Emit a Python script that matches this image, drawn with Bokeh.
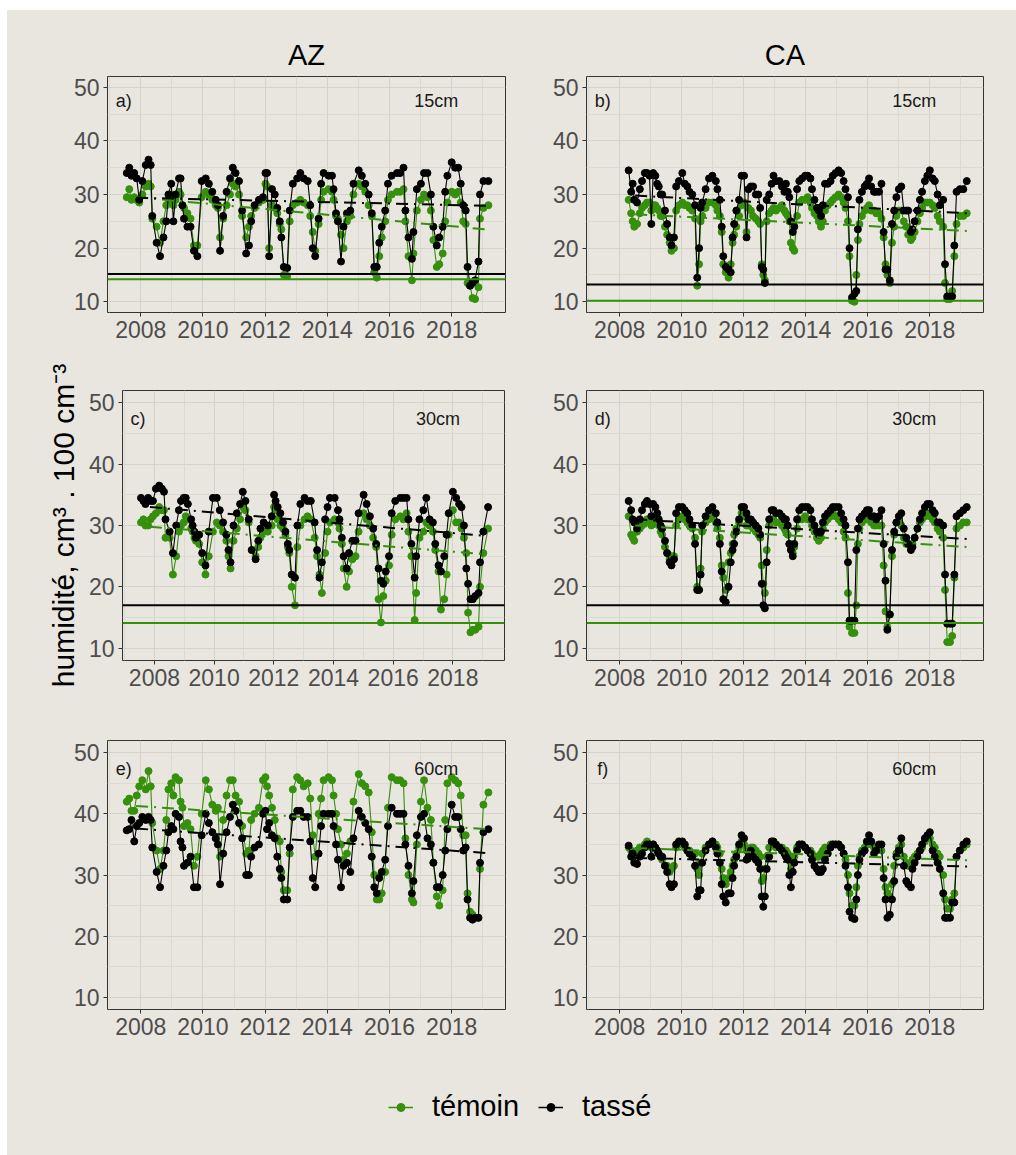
from bokeh.plotting import figure
from bokeh.models import (ColumnDataSource, Range1d, FixedTicker, Span, Label,
                          Legend, LegendItem, Spacer)
from bokeh.layouts import column, row
from bokeh.embed import file_html
from bokeh.resources import INLINE

BG = "#E9E6DF"
GREEN = "#35900C"
BLACK = "#000000"
FONT = "Liberation Sans"

# ---------------- data ----------------
series_names = ["témoin", "tassé"]
column_titles = ["AZ", "CA"]
panel_tags = ["a)", "b)", "c)", "d)", "e)", "f)"]
depth_labels = ["15cm", "15cm", "30cm", "30cm", "60cm", "60cm"]
x_major = [2008, 2010, 2012, 2014, 2016, 2018]
x_minor = [2007, 2009, 2011, 2013, 2015, 2017, 2019]
y_major = [10, 20, 30, 40, 50]
y_minor = [15, 25, 35, 45]

az_dates = [
    2007.55, 2007.63, 2007.70, 2007.79, 2007.87, 2007.95, 2008.05, 2008.16, 2008.25, 2008.32,
    2008.37, 2008.51, 2008.62, 2008.73, 2008.82, 2008.89, 2008.98, 2009.05, 2009.12, 2009.23,
    2009.28, 2009.34, 2009.39, 2009.50, 2009.60, 2009.71, 2009.82, 2009.96, 2010.09, 2010.19,
    2010.30, 2010.41, 2010.48, 2010.55, 2010.65, 2010.76, 2010.87, 2010.96, 2011.05, 2011.16,
    2011.26, 2011.39, 2011.48, 2011.55, 2011.66, 2011.80, 2011.93, 2012.01, 2012.06, 2012.13,
    2012.22, 2012.31, 2012.39, 2012.47, 2012.52, 2012.60, 2012.71, 2012.79, 2012.89, 2013.03,
    2013.13, 2013.24, 2013.37, 2013.45, 2013.53, 2013.61, 2013.72, 2013.80, 2013.88, 2014.04,
    2014.15, 2014.20, 2014.28, 2014.34, 2014.44, 2014.52, 2014.63, 2014.74, 2014.84, 2015.01,
    2015.11, 2015.22, 2015.33, 2015.43, 2015.51, 2015.59, 2015.67, 2015.75, 2015.86, 2015.95,
    2016.07, 2016.24, 2016.34, 2016.45, 2016.51, 2016.61, 2016.72, 2016.77, 2016.88, 2017.01,
    2017.11, 2017.22, 2017.33, 2017.41, 2017.52, 2017.60, 2017.71, 2017.79, 2017.86, 2018.00,
    2018.11, 2018.21, 2018.29, 2018.37, 2018.45, 2018.51, 2018.59, 2018.67, 2018.75, 2018.86,
    2018.91, 2019.02, 2019.18]

a_tasse = [
    34, 35, 33.5, 34, 33, 29, 32.5, 35.5, 36.5, 35.5,
    26, 21, 18.5, 22, 25, 30, 32, 25, 30, 33,
    33, 28, 25.5, 24, 24, 19.5, 18.5, 32.5, 33, 32,
    30.5, 29, 28, 19.5, 26, 30.5, 33, 35, 34, 32.5,
    27, 19, 20.5, 25, 28, 29, 29.5, 34, 34, 18.5,
    31, 30, 27.5, 25, 22, 16.5, 16.3, 27, 32, 33,
    34, 33, 32.5, 28, 20, 18.5, 25.5, 32, 34, 33.5,
    33.5, 31, 26.5, 25, 17.5, 24, 26.5, 27, 32, 34.5,
    33.5, 32, 30, 26.5, 16.5, 16.5, 21, 24, 27, 32,
    33.5, 34, 34, 35, 27, 22, 18, 23, 31, 32,
    34, 34, 30, 24, 20.5, 22, 24, 30.5, 33.5, 36,
    35, 35, 32, 28, 27, 16.5, 13, 13.5, 14, 17.5,
    30, 32.5, 32.5]
a_temoin = [
    29.5, 31, 29, 29.5, 29, 28.5, 30, 31.5, 32, 31.5,
    25.5, 24, 21, 25, 28, 28.5, 30, 28, 29, 30.5,
    30, 28, 27.5, 26.5, 25.5, 20.5, 20.5, 29.5, 30.5, 30,
    29, 28, 27.5, 22, 25.5, 28, 30, 32, 31.5, 30,
    26, 22, 24, 26, 27.5, 28.5, 29, 32, 31.5, 20,
    28, 27.5, 26.5, 24.5, 23.5, 15, 14.8, 25, 28, 28.5,
    29, 28.5, 28, 26, 23, 19.5, 24.5, 29, 30.5, 31,
    30.5, 29, 26, 25.5, 22.5, 20, 25, 26, 30, 32,
    31.5, 30.5, 28, 26, 15.5, 14.5, 18.5, 22, 25, 29,
    30, 30.5, 30.5, 31, 25, 18.5, 14, 19, 27, 29,
    30, 29.5, 27, 21.5, 16.5, 17, 19, 25, 28.5, 30.5,
    30, 30.5, 28.5, 25, 24.5, 13.5, 13, 10.7, 10.5, 12.7,
    25.5, 27.5, 28]
c_tasse = [
    34.5, 34, 33.5, 34.5, 34, 34, 36, 36.5, 36, 35.5,
    31, 29, 25.5, 30, 32.5, 34, 34.5, 34.5, 33.5, 31,
    30, 29, 28, 28.5, 25.5, 23.5, 29, 34.5, 34.5, 32.5,
    30.5, 28.5, 26, 24, 30, 32, 33.5, 35.5, 34, 31,
    26, 24.5, 27.5, 29.5, 30.5, 30, 31.5, 35, 34, 33,
    32, 30.5, 29, 27, 26, 22, 21.5, 30, 33.5, 34.5,
    34, 34, 30.5, 26, 21.5, 24, 31, 33, 34.5, 34.5,
    32.5, 31, 28, 25, 23, 25.5, 27.5, 27.5, 32, 35,
    33.5, 31.5, 29.5, 27, 23, 21, 20.5, 22.5, 25, 32,
    34, 34.5, 34.5, 34.5, 31, 27, 21.5, 25, 31, 32.5,
    34.5, 31, 30.5, 27, 23.5, 22.5, 25, 28.5, 32, 35.5,
    34.5, 33.5, 33, 30, 23, 20.5, 18, 18, 18.5, 19,
    24, 29, 33]
c_temoin = [
    30.5, 31, 30, 30, 31, 31.5, 32, 33, 32.5, 32.5,
    28, 28, 22, 25, 29, 30, 30.5, 31.5, 31, 29.5,
    29, 28, 27.5, 27, 24, 22, 25, 29, 30.5, 30,
    29, 27.5, 25, 23, 27.5, 29.5, 31, 33, 32.5, 30.5,
    26, 25, 26.5, 28, 29, 29, 30, 33, 32.5, 31,
    30, 29.5, 28.5, 26.5, 25.5, 20, 17, 26.5, 30, 31,
    31.5, 31, 28, 25, 22, 19, 25.5, 29, 30.5, 31,
    30.5, 29.5, 27, 23, 20, 22.5, 24.5, 25, 29, 32,
    31, 30, 28, 26.5, 18, 14.2, 18.5, 21, 23.5, 28.5,
    31, 31.5, 31, 32, 29, 25, 14.6, 19, 28, 29,
    30.5, 30, 29, 26, 22.5, 16.3, 18, 22, 28.5, 32.5,
    30.5, 30.5, 29.5, 28, 25.5, 15.8, 12.6, 13, 13, 13.5,
    20, 25.5, 29.5]
e_tasse = [
    37.3, 37.5, 39, 35.5, 38, 38.5, 39.5, 39, 39.5, 39,
    34.5, 30.5, 28, 31.5, 34, 37, 38, 37.5, 40, 39.5,
    35.5, 34.5, 31.5, 32, 33, 28, 28, 36.5, 40, 38.5,
    37, 36, 35, 28.5, 33.5, 37, 39.5, 41.5, 40.5, 38.5,
    36, 30, 30, 33, 34.5, 35, 40, 40.5, 37.5, 38.5,
    36.5, 36, 33, 31, 29.5, 26, 26, 34.5, 39.5, 40.5,
    40.5, 39.5, 39.5, 35.5, 29.5, 28, 33.5, 38, 40, 40,
    40, 38, 35, 32.5, 28, 31.5, 32, 30.5, 36, 40.5,
    39.5, 38.5, 37.5, 33, 28, 27, 29.5, 30.5, 32.5, 38,
    41, 40, 40, 40, 35, 31.5, 27, 29, 36.5, 39.5,
    40, 36, 35, 32, 28, 28, 30, 34, 37.5, 41.5,
    39.5, 39.5, 37.5, 34, 34.5, 26, 23, 22.7, 23, 23,
    32, 37, 37.5]
e_temoin = [
    42, 42.5, 40.5, 40.5, 43, 44.5, 45.5, 44, 47, 44.5,
    38.5, 34, 31, 34, 39, 44, 45, 43, 46, 45.5,
    42, 41, 38, 38.5, 37.5, 31.5, 33, 40, 45.5, 44,
    41.5, 40.5, 41, 33, 39, 43, 45.5, 45.5, 43, 42,
    38, 33.5, 34, 39, 40, 41, 45.5, 46, 44.5, 43,
    41, 39, 36, 35.5, 30.5, 27.5, 27.5, 33.5, 44, 46,
    45.5, 44.5, 45, 42.5, 36.5, 33, 40, 42.5, 45.5, 46,
    45.5, 43, 40, 37.5, 35, 32.5, 33.5, 35.5, 42, 46.5,
    45, 44.5, 43.5, 37, 30, 26, 26, 27, 30.5, 41,
    46, 45.5, 45.5, 45, 36, 30, 26, 25.5, 35, 42,
    45.5, 41, 39, 32, 26.5, 25, 27.5, 39, 45, 46,
    45.5, 45, 43, 36.5, 36.5, 27, 24, 23.5, 23, 23,
    31, 41.5, 43.5]

ca_dates = [
    2008.29, 2008.37, 2008.42, 2008.47, 2008.56, 2008.65, 2008.72, 2008.81, 2008.88, 2008.96,
    2009.02, 2009.08, 2009.15, 2009.21, 2009.26, 2009.32, 2009.37, 2009.46, 2009.53, 2009.61,
    2009.67, 2009.75, 2009.82, 2009.91, 2010.02, 2010.10, 2010.18, 2010.25, 2010.34, 2010.43,
    2010.50, 2010.56, 2010.61, 2010.66, 2010.77, 2010.88, 2010.99, 2011.10, 2011.15, 2011.23,
    2011.29, 2011.34, 2011.42, 2011.51, 2011.58, 2011.64, 2011.69, 2011.76, 2011.85, 2011.93,
    2012.01, 2012.09, 2012.15, 2012.23, 2012.30, 2012.39, 2012.47, 2012.53, 2012.58, 2012.63,
    2012.68, 2012.74, 2012.82, 2012.90, 2012.96, 2013.04, 2013.15, 2013.23, 2013.31, 2013.36,
    2013.42, 2013.47, 2013.52, 2013.58, 2013.63, 2013.72, 2013.79, 2013.88, 2013.98, 2014.06,
    2014.15, 2014.20, 2014.28, 2014.36, 2014.42, 2014.49, 2014.55, 2014.62, 2014.71, 2014.80,
    2014.87, 2014.96, 2015.06, 2015.14, 2015.22, 2015.28, 2015.36, 2015.41, 2015.49, 2015.57,
    2015.63, 2015.68, 2015.73, 2015.81, 2015.90, 2015.97, 2016.04, 2016.11, 2016.20, 2016.27,
    2016.36, 2016.44, 2016.51, 2016.57, 2016.63, 2016.71, 2016.78, 2016.85, 2016.92, 2017.00,
    2017.08, 2017.16, 2017.24, 2017.30, 2017.39, 2017.44, 2017.51, 2017.60, 2017.68, 2017.75,
    2017.84, 2017.92, 2018.00, 2018.09, 2018.16, 2018.25, 2018.32, 2018.43, 2018.49, 2018.56,
    2018.65, 2018.72, 2018.79, 2018.86, 2018.97, 2019.08, 2019.19]

b_tasse = [
    34.5, 30.5, 32, 29, 28.5, 31, 32.5, 34, 34, 33.5,
    24.5, 34, 33.5, 32, 31.5, 30, 30, 27, 24.5, 22,
    20.5, 22, 31.5, 32.5, 34, 32, 31.5, 30.5, 30, 28,
    14.5, 20, 27.5, 28.5, 31, 33, 33.5, 32.5, 31, 29,
    24, 18.5, 16.5, 16, 15.5, 22, 24.5, 27, 29, 33.5,
    33.5, 22, 31, 31.5, 31.5, 30, 30, 27.5, 16.5, 16,
    13.5, 29, 30, 32, 33.5, 32.5, 32.5, 31.5, 30.5, 32,
    30.5, 29.5, 25, 23, 24, 31, 32.5, 33, 33.5, 33.5,
    33, 31, 29, 27.5, 27, 26, 28, 32, 32, 32.5,
    33.5, 34, 34.5, 34, 32.5, 31, 29.5, 20, 10.8, 11.5,
    12, 23.5, 29, 30.5, 31.5, 32, 33, 31.5, 30.5, 30.5,
    30.5, 32, 23, 16, 16, 14, 24.5, 27, 29.5, 31,
    31.5, 27, 27, 27, 23, 23.5, 25, 27, 29, 30.5,
    32.5, 33.5, 34.5, 33, 32.5, 30, 28, 29, 17, 11,
    11, 11, 20.5, 30.5, 31, 31, 32.5]
b_temoin = [
    29, 26.5, 25, 24, 24.5, 26.5, 27.5, 28, 28.5, 28.5,
    27, 28, 28, 27.5, 27, 26, 26, 24, 22.5, 21,
    19.5, 20, 27, 28, 28.5, 28, 28, 27.5, 27, 25.5,
    13, 17, 25, 26, 27.5, 28.5, 28.5, 28, 27, 26,
    23, 17, 15.5, 14.5, 17, 21, 22.5, 24, 26, 28,
    28.5, 23, 27.5, 27, 26, 25.5, 25, 24.5, 17, 15,
    14, 25, 26.5, 27, 27.5, 27, 27.5, 28, 27, 26.5,
    26, 25, 21, 20, 19.5, 26, 28.5, 29, 29, 29.5,
    28.5, 27.5, 26.5, 26, 25, 24, 25, 27, 28, 28.5,
    29, 29.5, 30, 29.5, 28.5, 27.5, 25, 18.5, 10.2, 10,
    15, 21.5, 24.5, 26, 27, 27.5, 28, 27, 27, 26.5,
    26.5, 25.5, 22, 17, 15, 13.5, 21, 24, 26, 27,
    27, 25, 24, 22.5, 21.5, 22, 23, 25, 26.5, 27.5,
    28.5, 28.5, 28.5, 28, 27.5, 26, 25, 24, 13.5, 10.5,
    10.5, 12, 18.5, 24.5, 26, 26, 26.5]
d_tasse = [
    34, 32.5, 31, 30.5, 29.5, 31, 32.5, 33.5, 34, 33.5,
    31.5, 33.5, 33, 32, 31, 30, 29.5, 27.5, 25.5, 24,
    23.5, 24.5, 32, 33, 33, 32.5, 32, 31, 30, 27,
    19.5, 19.5, 22, 30, 31.5, 32.5, 33, 32, 30.5, 27,
    22.5, 18, 17.5, 20, 24, 26, 27, 29, 31, 33,
    33, 32, 31, 31, 30.5, 30, 29.5, 28.5, 20.5, 17,
    16.5, 24, 31, 32.5, 32.5, 32, 32, 31.5, 31, 31,
    30, 27, 26, 25, 27, 31, 32.5, 33, 33, 33,
    32.5, 31, 30, 29, 28.5, 29, 30.5, 31.5, 32, 32.5,
    33, 33, 33, 32, 31, 30, 24, 14.5, 14.5, 14.5,
    26, 29.5, 31, 31.5, 32, 32.5, 32.5, 31.5, 31.5, 31,
    31.5, 32.5, 27, 21, 13, 15.5, 26, 29, 30.5, 31.5,
    32, 29.5, 28, 27, 26, 26.5, 28, 29.5, 31, 32,
    33, 33.5, 33.5, 32.5, 32, 30.5, 30.5, 30, 22, 14,
    14, 14, 22, 31.5, 32, 32.5, 33]
d_temoin = [
    31.5, 28.5, 28, 27.5, 29, 29.5, 30, 30.5, 31, 31,
    30, 31, 31, 30.5, 30, 29, 28.5, 26.5, 25.5, 24.5,
    25, 25, 30, 31, 31.5, 31, 30.5, 30, 29.5, 28,
    20, 19.5, 23, 29, 30.5, 31, 31.5, 30.5, 29.5, 28,
    23.5, 21.5, 19.5, 24, 25.5, 27, 28.5, 29.5, 30.5, 32,
    31.5, 30, 30, 30, 29.5, 29, 28.5, 28, 23.5, 20.5,
    19, 26, 30, 31, 31, 30.5, 30.5, 30, 29.5, 29,
    28.5, 27, 26.5, 25.5, 26.5, 29.5, 31, 31, 31.5, 31,
    31, 30, 29, 28, 27.5, 28, 29.5, 30.5, 31, 31.5,
    32, 31.5, 31, 30.5, 29, 28, 19, 13.5, 12.5, 12.5,
    17, 27, 29.5, 30.5, 31, 31, 31, 30.5, 30, 30,
    30, 30, 23.5, 16, 13.5, 15.5, 25, 28.5, 30.5, 30.5,
    30, 28, 27, 27, 26.5, 27, 28, 29.5, 30.5, 31,
    31.5, 32, 31.5, 31, 30.5, 29.5, 29, 28, 19.5, 11,
    11, 12, 21.5, 29.5, 30, 30.5, 30.5]
f_tasse = [
    34.8, 33, 33.5, 32, 31.8, 33, 33.5, 34.5, 35, 35,
    33, 35, 34.5, 34, 33.5, 33, 33, 31.5, 30.5, 28.5,
    28, 28.5, 35, 35.5, 35.5, 35, 34, 33.5, 33, 31.5,
    26.5, 27.5, 27.5, 32, 34, 35, 35.5, 34.5, 33.5, 32,
    28.5, 26.5, 25.5, 27, 27, 29.5, 31.5, 33, 35, 36.5,
    36, 32.5, 33, 34, 33, 32.5, 32, 31, 26.5, 24.8,
    26.5, 31, 33, 35.5, 35.5, 35, 34.5, 34, 33.5, 33,
    32.5, 30, 28, 30.5, 32, 34, 35, 35, 34.5, 34,
    33.5, 32.5, 31.5, 31, 30.5, 30.5, 31, 32.5, 33.5, 34.5,
    35, 35, 35, 34.5, 33.5, 31.5, 28, 24, 23, 22.8,
    26, 30, 32.5, 33.5, 34, 35.5, 36.5, 35.5, 33.5, 34,
    35, 35, 29.5, 26, 23, 23.5, 26, 29, 33, 34,
    36, 31.5, 29, 28.5, 28, 31, 32, 33, 34, 35,
    36, 36.5, 37, 34, 33, 32, 31, 27, 23, 23,
    23, 25.5, 25.5, 33, 34, 35, 35.5]
f_temoin = [
    34.5, 34, 33, 33.5, 34, 34.5, 34.5, 35, 35.5, 35,
    34.5, 35, 34.5, 34, 33.5, 33, 32.5, 31.5, 31.5, 30.5,
    31, 31.5, 34.5, 35, 35, 34.5, 34, 34, 33.5, 33.5,
    31, 30, 32, 33.5, 34.5, 35, 35.5, 35, 34.5, 33.5,
    31, 29.5, 28.5, 29.5, 30.5, 31.5, 32.5, 33.5, 34.5, 35.5,
    35, 34, 34, 34.5, 34.5, 34, 33.5, 33, 29, 29.5,
    31, 33, 34.5, 35, 35, 34.5, 34.5, 34.5, 34, 34,
    33.5, 32.5, 31, 32, 33, 34.5, 35, 35, 34.5, 34,
    34, 33.5, 33, 33, 33, 33.5, 34, 34.5, 34.5, 35,
    35, 35, 35, 34.5, 33.5, 32.5, 30, 27, 25, 25,
    28, 31.5, 33, 34, 34.5, 35, 35.5, 35, 34.5, 34.5,
    34.5, 34, 31, 28, 27, 26.5, 28.5, 31.5, 33.5, 34.5,
    35, 33, 32, 31.5, 31.5, 32.5, 33, 33.5, 34, 34.5,
    35.5, 36, 36, 35, 34.5, 33.5, 33, 30, 26, 24.5,
    24.5, 26, 27, 33, 34, 34.5, 35]

# trend lines (start / end of period)
trend_x_az = [2007.85, 2019.10]
trend_x_ca = [2008.50, 2019.20]
a_temoin_trend = [29.5, 23.5]
a_tasse_trend = [29.4, 27.9]
b_temoin_trend = [26.3, 23.2]
b_tasse_trend = [29.8, 26.5]
c_temoin_trend = [29.8, 25.3]
c_tasse_trend = [33.0, 28.3]
d_temoin_trend = [30.0, 26.5]
d_tasse_trend = [31.0, 27.8]
e_temoin_trend = [41.3, 37.5]
e_tasse_trend = [37.6, 33.6]
f_temoin_trend = [34.4, 32.4]
f_tasse_trend = [32.8, 31.4]

# reference levels (témoin, tassé) per panel
ref_temoin = [14.2, 10.2, 14.1, 14.1, None, None]
ref_tasse = [15.2, 13.2, 17.0, 17.0, None, None]

for arr in (a_tasse, a_temoin, c_tasse, c_temoin, e_tasse, e_temoin):
    assert len(arr) == len(az_dates), len(arr)
for arr in (b_tasse, b_temoin, d_tasse, d_temoin, f_tasse, f_temoin):
    assert len(arr) == len(ca_dates), len(arr)

az_src = ColumnDataSource(dict(date=az_dates, a_tem=a_temoin, a_tas=a_tasse,
                               c_tem=c_temoin, c_tas=c_tasse,
                               e_tem=e_temoin, e_tas=e_tasse))
ca_src = ColumnDataSource(dict(date=ca_dates, b_tem=b_temoin, b_tas=b_tasse,
                               d_tem=d_temoin, d_tas=d_tasse,
                               f_tem=f_temoin, f_tas=f_tasse))

panels = [
    ("a", az_src, trend_x_az, a_temoin_trend, a_tasse_trend),
    ("b", ca_src, trend_x_ca, b_temoin_trend, b_tasse_trend),
    ("c", az_src, trend_x_az, c_temoin_trend, c_tasse_trend),
    ("d", ca_src, trend_x_ca, d_temoin_trend, d_tasse_trend),
    ("e", az_src, trend_x_az, e_temoin_trend, e_tasse_trend),
    ("f", ca_src, trend_x_ca, f_temoin_trend, f_tasse_trend),
]

# layout geometry: (width, height, left, right, top, bottom)
geom = [
    (533, 342, 100, 35, 66, 40), (476, 342, 46, 33, 66, 40),
    (533, 348, 115, 36, 38, 40), (476, 348, 46, 33, 38, 40),
    (533, 350, 100, 35, 40, 41), (476, 350, 46, 33, 40, 41),
]

figs = []
for i, (key, src, tx, ttem, ttas) in enumerate(panels):
    w, h, bl, br, bt, bb = geom[i]
    p = figure(width=w, height=h, x_range=Range1d(2006.93, 2019.73),
               y_range=Range1d(8, 52), output_backend="svg",
               toolbar_location=None, min_border_left=bl, min_border_right=br,
               min_border_top=bt, min_border_bottom=bb,
               background_fill_color=BG, border_fill_color=BG,
               outline_line_color="#333333", outline_line_width=1)
    if i < 2:
        p.title.text = column_titles[i]
        p.title.align = "center"
        p.title.text_font = FONT
        p.title.text_font_size = "29px"
        p.title.text_font_style = "normal"
        p.title.text_color = "#000000"
        p.title.standoff = 11

    xt = FixedTicker(ticks=x_major, minor_ticks=x_minor)
    yt = FixedTicker(ticks=y_major, minor_ticks=y_minor)
    p.xaxis.ticker = xt
    p.yaxis.ticker = yt
    p.xgrid.ticker = xt
    p.ygrid.ticker = yt
    for ax in (p.xaxis[0], p.yaxis[0]):
        ax.axis_line_color = None
        ax.major_tick_line_color = "#333333"
        ax.major_tick_in = 0
        ax.major_tick_out = 4
        ax.minor_tick_line_color = None
        ax.major_label_text_font = FONT
        ax.major_label_text_font_size = "23px"
        ax.major_label_text_color = "#4D4D4D"
        ax.major_label_standoff = 4
    p.grid.grid_line_color = "#D5D2CB"
    p.grid.grid_line_width = 1
    p.grid.minor_grid_line_color = "#DCD9D2"
    p.grid.minor_grid_line_width = 1

    if key == "c":
        p.yaxis.axis_label = "humidité, cm³ . 100 cm⁻³"
        p.yaxis.axis_label_text_font = FONT
        p.yaxis.axis_label_text_font_size = "30px"
        p.yaxis.axis_label_text_font_style = "normal"
        p.yaxis.axis_label_text_color = "#000000"
        p.yaxis.axis_label_standoff = 6

    # témoin then tassé
    p.line("date", f"{key}_tem", source=src, line_color=GREEN, line_width=1.1)
    p.scatter("date", f"{key}_tem", source=src, size=7, fill_color=GREEN,
              line_color=GREEN)
    p.line("date", f"{key}_tas", source=src, line_color=BLACK, line_width=1.1)
    p.scatter("date", f"{key}_tas", source=src, size=7, fill_color=BLACK,
              line_color=BLACK)

    p.line(tx, ttem, line_color=GREEN, line_width=2, line_dash="12 6 2 6")
    p.line(tx, ttas, line_color=BLACK, line_width=2, line_dash="12 6 2 6")

    if ref_tasse[i] is not None:
        p.add_layout(Span(location=ref_tasse[i], dimension="width",
                          line_color=BLACK, line_width=2))
    if ref_temoin[i] is not None:
        p.add_layout(Span(location=ref_temoin[i], dimension="width",
                          line_color=GREEN, line_width=2))

    p.add_layout(Label(x=2007.45, y=47.4, text=panel_tags[i],
                       text_align="center", text_baseline="middle",
                       text_font=FONT, text_font_size="18px",
                       text_color="#1A1A1A"))
    p.add_layout(Label(x=2017.5, y=47.4, text=depth_labels[i],
                       text_align="center", text_baseline="middle",
                       text_font=FONT, text_font_size="18px",
                       text_color="#1A1A1A"))
    figs.append(p)

# legend strip (legend renderers hold one point outside the visible range)
lf = figure(width=1009, height=105, x_range=Range1d(0, 1), y_range=Range1d(0, 1),
            output_backend="svg", toolbar_location=None, min_border=0,
            x_axis_type=None, y_axis_type=None,
            background_fill_color=BG, border_fill_color=BG,
            outline_line_color=None)
lf.grid.visible = False
g1 = lf.line(x=[-5, -4], y=[-5, -4], line_color=GREEN, line_width=1.5)
g2 = lf.scatter(x=[-5], y=[-5], size=6, fill_color=GREEN, line_color=GREEN)
k1 = lf.line(x=[-5, -4], y=[-5, -4], line_color=BLACK, line_width=1.5)
k2 = lf.scatter(x=[-5], y=[-5], size=6, fill_color=BLACK, line_color=BLACK)
legend = Legend(items=[LegendItem(label=series_names[0], renderers=[g1, g2]),
                       LegendItem(label=series_names[1], renderers=[k1, k2])],
                orientation="horizontal", location=(381, 32),
                glyph_width=25, glyph_height=20, label_standoff=19,
                spacing=19, padding=0, margin=0,
                border_line_color=None, background_fill_alpha=0,
                label_text_font=FONT, label_text_font_size="29px",
                label_text_color="#000000")
lf.add_layout(legend, "center")

inner = column(row(figs[0], figs[1], spacing=0),
               row(figs[2], figs[3], spacing=0),
               row(figs[4], figs[5], spacing=0), lf, spacing=0,
               styles={"background-color": BG})
layout = column(Spacer(width=1016, height=10),
                row(Spacer(width=7, height=1145), inner, spacing=0),
                spacing=0)

open("out.html", "w").write(file_html(layout, INLINE))
